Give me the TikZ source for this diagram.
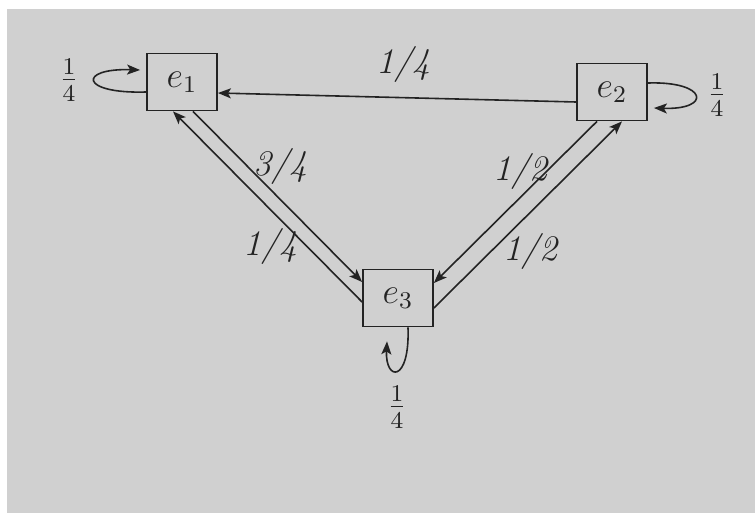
\documentclass[tikz,border=0pt]{standalone}
\usepackage{graphicx}
\usetikzlibrary{arrows.meta,calc}
\definecolor{paper}{RGB}{208,208,208}
\definecolor{ink}{RGB}{35,35,35}
\newcommand{\mybig}[1]{\scalebox{3}{#1}}
\begin{document}
\begin{tikzpicture}[x=1pt,y=-1pt,
  font=\fontsize{12}{14}\selectfont,
  state/.style={draw=ink, line width=1.8pt, minimum width=70pt, minimum height=57pt, inner sep=0pt, text=ink},
  edge/.style={draw=ink, line width=1.6pt, -{Stealth[length=13pt,width=10pt,inset=3pt]}},
  lbl/.style={text=ink, inner sep=0pt}]
\fill[white] (0,0) rectangle (755,513);
\fill[paper] (7,9) rectangle (755,513);
\useasboundingbox (0,0) rectangle (755,513);

\node[state] (e1) at (182,82) {\mybig{$e_1$}};
\node[state] (e2) at (612,92) {\mybig{$e_2$}};
\node[state] (e3) at (398,298) {\mybig{$e_3$}};

% e2 -> e1
\draw[edge] ($(e2.west)+(0,10)$) -- ($(e1.east)+(0,11)$);
% e1 <-> e3
\draw[edge] ($(e1.south)+(11,0)$) -- ($(e3.west)+(0,-16)$);
\draw[edge] ($(e3.west)+(0,4)$) -- ($(e1.south)+(-9,0)$);
% e2 <-> e3
\draw[edge] ($(e2.south)+(-15,0)$) -- ($(e3.east)+(0,-15)$);
\draw[edge] ($(e3.east)+(0,10)$) -- ($(e2.south)+(10,0)$);

% self loops
\draw[edge] ($(e1.west)+(0,10)$) .. controls +(-67,2) and +(-62,-2) .. ($(e1.west)+(-6,-12)$);
\draw[edge] ($(e2.east)+(0,-9)$) .. controls +(60,-2) and +(58,2) .. ($(e2.east)+(6,16)$);
\draw[edge] ($(e3.south)+(10,0)$) .. controls +(2,56) and +(-2,40) .. ($(e3.south)+(-11,14)$);

% labels
\node[lbl] (p11) at (69,80) {\mybig{$\frac14$}};
\node[lbl] (p22) at (717,95) {\mybig{$\frac14$}};
\node[lbl] (p33) at (397,407) {\mybig{$\frac14$}};
\node[lbl] (p21) at (403,65) {\mybig{\textit{1/4}}};
\node[lbl] (p13) at (280,167) {\mybig{\textit{3/4}}};
\node[lbl] (p31) at (270,246) {\mybig{\textit{1/4}}};
\node[lbl] (p23) at (521,172) {\mybig{\textit{1/2}}};
\node[lbl] (p32) at (531,251) {\mybig{\textit{1/2}}};
\end{tikzpicture}
\end{document}
